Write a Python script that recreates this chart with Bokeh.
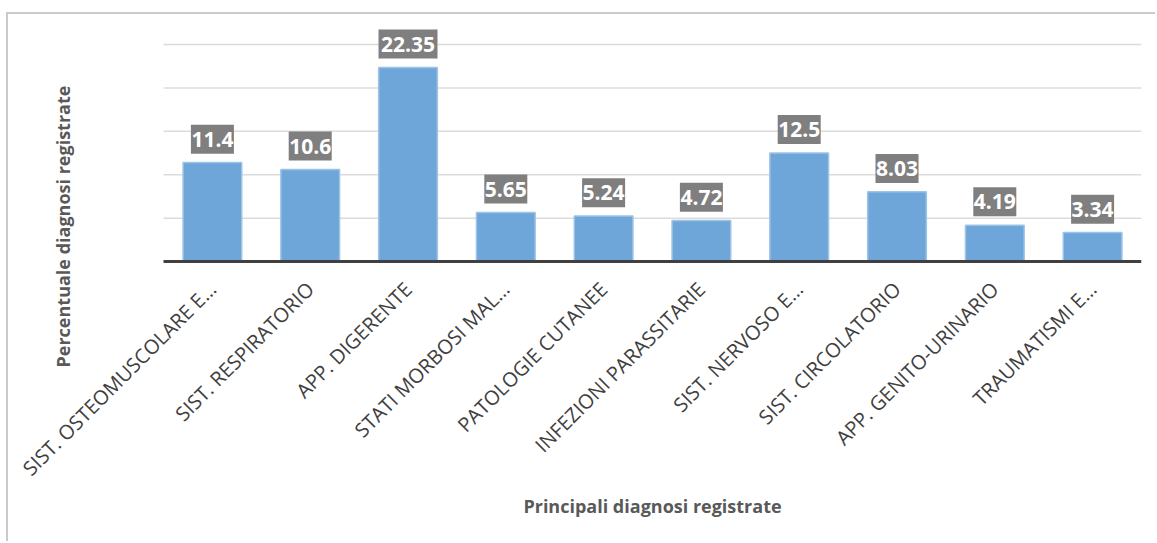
from math import pi

from bokeh.core.properties import value
from bokeh.embed import file_html
from bokeh.models import ColumnDataSource, FixedTicker, LinearAxis, Range1d
from bokeh.plotting import figure
from bokeh.resources import INLINE
from bokeh.transform import dodge

# Main diagnoses and their share (%)
diagnoses = [
    "SIST. OSTEOMUSCOLARE E…",
    "SIST. RESPIRATORIO",
    "APP. DIGERENTE",
    "STATI MORBOSI MAL…",
    "PATOLOGIE CUTANEE",
    "INFEZIONI PARASSITARIE",
    "SIST. NERVOSO E…",
    "SIST. CIRCOLATORIO",
    "APP. GENITO-URINARIO",
    "TRAUMATISMI E…",
]
percentages = [11.4, 10.6, 22.35, 5.65, 5.24, 4.72, 12.5, 8.03, 4.19, 3.34]
value_labels = ["11.4", "10.6", "22.35", "5.65", "5.24", "4.72", "12.5", "8.03", "4.19", "3.34"]
grid_values = [5, 10, 15, 20, 25]
y_title = "Percentuale diagnosi registrate"
x_title = "Principali diagnosi registrate"

n = len(diagnoses)
positions = list(range(n))                     # one slot per diagnosis
box_widths = [16 * len(s) - 21 for s in value_labels]   # label box grows with text length

source = ColumnDataSource(dict(pos=positions, pct=percentages, lbl=value_labels, bw=box_widths))

FONT = "Open Sans"
TEXT_GREY = "#595959"

# The frame covers the whole chart area; the category axis is pinned at zero
# and the titles are placed relative to the category slots.
p = figure(
    x_range=Range1d(-2.085, n - 0.5),
    y_range=Range1d(-32.48, 27.77),
    width=1149,
    height=529,
    output_backend="svg",
    toolbar_location=None,
    x_axis_location=None,
    y_axis_location=None,
    min_border_left=0,
    min_border_right=16,
    min_border_top=6,
    min_border_bottom=0,
)
# light chart-area border along the top and left
p.margin = (12, 0, 0, 6)
p.styles = {
    "border-top": "2px solid #cacaca",
    "border-left": "2px solid #cacaca",
}
p.outline_line_color = None
p.background_fill_color = "white"
p.border_fill_color = "white"
p.grid.visible = False

# horizontal gridlines spanning the category slots only
p.segment(
    x0=[-0.5] * len(grid_values), x1=[n - 0.5] * len(grid_values),
    y0=grid_values, y1=grid_values,
    line_color="#dcdcdc", line_width=1.5,
)

p.vbar(
    x="pos", top="pct", width=0.6, source=source,
    fill_color="#6fa6da", line_color="#9dc3e6", line_width=1.5,
)

# data labels: grey box floating just above each bar
label_y = dodge("pct", 2.7, range=p.y_range)
p.rect(
    x="pos", y=label_y, width="bw", height=29, source=source,
    width_units="screen", height_units="screen",
    fill_color="#7f7f7f", line_color=None,
)
p.text(
    x="pos", y=label_y, text="lbl", source=source,
    text_align="center", text_baseline="middle",
    text_font=value(FONT), text_font_style="bold", text_font_size="21px",
    text_color="white",
)

# category axis
xa = LinearAxis(
    fixed_location=0,
    bounds=(-0.5, n - 0.5),
    ticker=FixedTicker(ticks=positions),
    major_label_overrides={i: name for i, name in zip(positions, diagnoses)},
)
xa.axis_line_color = "#404040"
xa.axis_line_width = 3
xa.major_tick_line_color = None
xa.minor_tick_line_color = None
xa.major_label_orientation = pi / 4
xa.major_label_standoff = 18
xa.major_label_text_font = FONT
xa.major_label_text_font_size = "20px"
xa.major_label_text_color = "#404040"
p.add_layout(xa, "below")

# axis titles
p.text(
    x=[(n - 1) / 2], y=[0], text=[x_title], y_offset=244,
    text_align="center", text_baseline="middle",
    text_font=value(FONT), text_font_style="bold", text_font_size="18px",
    text_color=TEXT_GREY,
)
p.text(
    x=[-0.5], y=[0], text=[y_title], x_offset=-101, y_offset=-35, angle=pi / 2,
    text_align="center", text_baseline="middle",
    text_font=value(FONT), text_font_style="bold", text_font_size="18px",
    text_color=TEXT_GREY,
)

open("out.html", "w").write(file_html(p, INLINE))
